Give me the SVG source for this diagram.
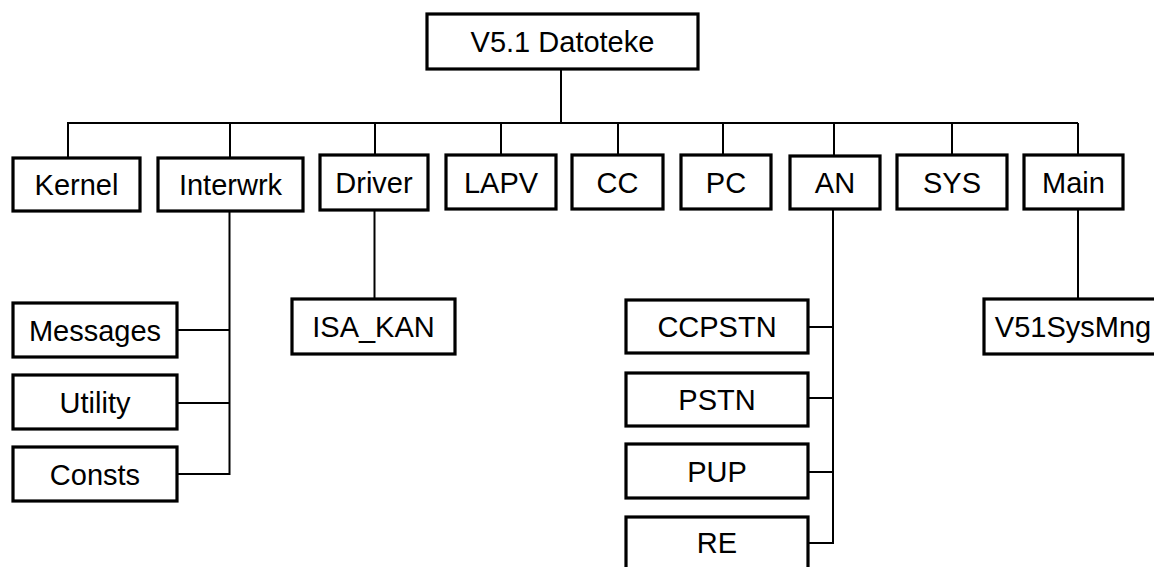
<svg xmlns="http://www.w3.org/2000/svg" width="1154" height="567" viewBox="0 0 1154 567">
<style>
.box{fill:#fff;stroke:#000;stroke-width:3.2}
.lbl{font-family:"Liberation Sans",Arial,sans-serif;font-size:29px;fill:#000;text-anchor:middle}
.con{stroke:#000;stroke-width:2;fill:none}
</style>
<rect width="1154" height="567" fill="#fff"/>
<g id="connectors">
<line class="con" x1="561" y1="69" x2="561" y2="123"/>
<line class="con" x1="67" y1="123" x2="1078" y2="123"/>
<line class="con" x1="68" y1="123" x2="68" y2="158"/>
<line class="con" x1="230" y1="123" x2="230" y2="158"/>
<line class="con" x1="375" y1="123" x2="375" y2="155"/>
<line class="con" x1="501" y1="123" x2="501" y2="155"/>
<line class="con" x1="618" y1="123" x2="618" y2="155"/>
<line class="con" x1="723" y1="123" x2="723" y2="155"/>
<line class="con" x1="834" y1="123" x2="834" y2="156"/>
<line class="con" x1="952" y1="123" x2="952" y2="155"/>
<line class="con" x1="1078" y1="123" x2="1078" y2="155"/>
<path class="con" d="M229.5 211 V475 M177 330 H229.5 M177 403 H229.5 M177 474 H229.5"/>
<line class="con" x1="374.5" y1="210" x2="374.5" y2="299"/>
<path class="con" d="M833 209 V544 M808 327 H833 M808 398 H833 M808 472 H833 M808 543 H833"/>
<line class="con" x1="1078" y1="209" x2="1078" y2="299"/>
</g>
<g id="root"><rect class="box" x="427" y="14" width="271" height="55"/><text class="lbl" x="562.5" y="52">V5.1 Datoteke</text></g>
<g id="kernel"><rect class="box" x="13" y="158" width="127" height="53"/><text class="lbl" x="76.5" y="195">Kernel</text></g>
<g id="interwrk"><rect class="box" x="158" y="158" width="145" height="53"/><text class="lbl" x="230.5" y="195">Interwrk</text></g>
<g id="driver"><rect class="box" x="320" y="155" width="108" height="55"/><text class="lbl" x="374" y="193">Driver</text></g>
<g id="lapv"><rect class="box" x="446" y="155" width="110" height="54"/><text class="lbl" x="501" y="192.5">LAPV</text></g>
<g id="cc"><rect class="box" x="572" y="155" width="91" height="54"/><text class="lbl" x="617.5" y="192.5">CC</text></g>
<g id="pc"><rect class="box" x="681" y="155" width="90" height="54"/><text class="lbl" x="726" y="192.5">PC</text></g>
<g id="an"><rect class="box" x="790" y="156" width="90" height="53"/><text class="lbl" x="835" y="192.5">AN</text></g>
<g id="sys"><rect class="box" x="897" y="155" width="110" height="54"/><text class="lbl" x="952" y="192.5">SYS</text></g>
<g id="main"><rect class="box" x="1024" y="155" width="99" height="54"/><text class="lbl" x="1073.5" y="192.5">Main</text></g>
<g id="messages"><rect class="box" x="13" y="303" width="164" height="54"/><text class="lbl" x="95" y="341">Messages</text></g>
<g id="utility"><rect class="box" x="13" y="375" width="164" height="54"/><text class="lbl" x="95" y="413">Utility</text></g>
<g id="consts"><rect class="box" x="13" y="447" width="164" height="54"/><text class="lbl" x="95" y="485">Consts</text></g>
<g id="isa_kan"><rect class="box" x="292" y="299" width="163" height="55"/><text class="lbl" x="373.5" y="337">ISA_KAN</text></g>
<g id="ccpstn"><rect class="box" x="626" y="300" width="182" height="53"/><text class="lbl" x="717" y="337">CCPSTN</text></g>
<g id="pstn"><rect class="box" x="626" y="373" width="182" height="53"/><text class="lbl" x="717" y="410">PSTN</text></g>
<g id="pup"><rect class="box" x="626" y="444" width="182" height="54"/><text class="lbl" x="717" y="482">PUP</text></g>
<g id="re"><rect class="box" x="626" y="517" width="182" height="54"/><text class="lbl" x="717" y="553">RE</text></g>
<g id="v51sysmng"><rect class="box" x="984" y="299" width="180" height="55"/><text class="lbl" x="1073" y="337">V51SysMng</text></g>
</svg>
